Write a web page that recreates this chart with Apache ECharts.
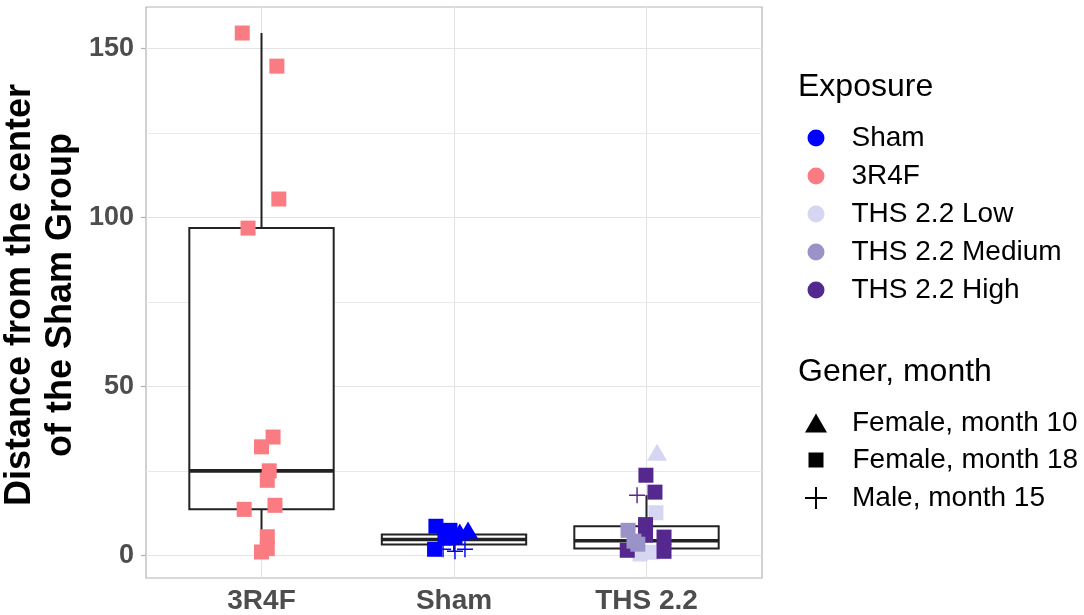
<!DOCTYPE html>
<html>
<head>
<meta charset="utf-8">
<script src="https://cdn.jsdelivr.net/npm/echarts@6/dist/echarts.min.js"></script>
<style>html,body{margin:0;padding:0;background:#fff}#c{width:1084px;height:615px}</style>
</head>
<body>
<div id="c"></div>
<script>
// ---- data ----
const categories = ['3R4F', 'Sham', 'THS 2.2'];
const categoryPos = [1, 2, 3];
const yTicks = [0, 50, 100, 150];
const yMinor = [25, 75, 125];

// box statistics per category (3R4F, Sham, THS 2.2)
const boxLow  = [1.1, 1.3, 0.5];
const boxQ1   = [13.7, 3.3, 2.1];
const boxMed  = [25.1, 4.8, 4.4];
const boxQ3   = [96.9, 6.3, 8.7];
const boxHigh = [154.6, 8.7, 17.9];

// jittered points [x, distance]
const r3f_sq = [[0.90,154.6],[1.08,144.8],[1.09,105.5],[0.93,96.9],[1.06,35.1],[1.00,32.2],
                [1.04,25.1],[1.03,22.3],[0.91,13.7],[1.07,14.9],[1.03,5.6],[1.03,2.1],[1.00,1.1]];
const sham_sq   = [[1.906,8.7],[1.979,7.5],[1.899,1.9],[1.953,5.2],[2.005,5.5]];
const sham_tri  = [[2.073,7.6],[2.030,7.0]];
const sham_plus = [[1.943,1.9],[2.005,1.3],[2.057,1.9]];
const low_tri   = [[3.055,30.6]];
const low_sq    = [[3.049,12.7],[3.029,1.0],[2.966,0.5]];
const med_sq    = [[2.904,7.5],[2.935,4.3],[2.955,3.4]];
const high_sq   = [[2.997,23.8],[3.044,18.8],[2.995,9.2],[2.995,6.1],[3.091,5.5],[3.091,1.3],[2.900,1.6]];
const high_plus = [[2.951,17.9]];

const exposureNames = ['Sham', '3R4F', 'THS 2.2 Low', 'THS 2.2 Medium', 'THS 2.2 High'];
const exposureColors = ['#0000ff', '#fa7b81', '#d6d6f3', '#9a93c8', '#55288f'];
const shapeNames = ['Female, month 10', 'Female, month 18', 'Male, month 15'];

// ---- styling ----
const FONT = 'Liberation Sans, Arial, Helvetica, sans-serif';
const TRI = 'path://M11,0L22,19H0Z';
const SQ = 'path://M0,0H10V10H0Z';
const PLUS = 'path://M45.5,0H54.5V45.5H100V54.5H54.5V100H45.5V54.5H0V45.5H45.5Z';
const shapeSym = {
  tri: {symbol: TRI, symbolSize: [20, 17]},
  sq: {symbol: 'rect', symbolSize: 15},
  plus: {symbol: PLUS, symbolSize: 16}
};
function pts(arr, shape) {
  return arr.map(p => Object.assign({value: p}, shapeSym[shape]));
}
const BOX_HALF = 0.375;
const boxData = categories.map((c, i) => [categoryPos[i], boxLow[i], boxQ1[i], boxMed[i], boxQ3[i], boxHigh[i]]);

const pointSeries = [
  {name: 'THS 2.2 Low', data: pts(low_tri, 'tri').concat(pts(low_sq, 'sq'))},
  {name: '3R4F', data: pts(r3f_sq, 'sq')},
  {name: 'Sham', data: pts(sham_sq, 'sq').concat(pts(sham_tri, 'tri'), pts(sham_plus, 'plus'))},
  {name: 'THS 2.2 High', data: pts(high_sq, 'sq').concat(pts(high_plus, 'plus'))},
  {name: 'THS 2.2 Medium', data: pts(med_sq, 'sq')}
].map(s => ({
  type: 'scatter', name: s.name, data: s.data, z: 4,
  itemStyle: {color: exposureColors[exposureNames.indexOf(s.name)], opacity: 1},
  emphasis: {disabled: true}, silent: true
}));

const gridLineSeries = {
  type: 'scatter', name: '_grid', data: [], silent: true,
  markLine: {
    z: 1, silent: true, symbol: ['none', 'none'], label: {show: false}, animation: false,
    lineStyle: {color: '#e4e4e4', width: 1.2, type: 'solid'},
    emphasis: {disabled: true},
    data: yTicks.map(v => ({yAxis: v}))
      .concat(yMinor.map(v => ({yAxis: v, lineStyle: {width: 0.9, color: '#e8e8e8', type: 'solid'}})))
      .concat(categoryPos.map(v => ({xAxis: v})))
  }
};

const boxSeries = {
  type: 'custom', name: '_box', z: 3, silent: true,
  data: boxData,
  encode: {x: 0, y: [1, 2, 3, 4, 5]},
  renderItem: function (params, api) {
    const x = api.value(0);
    const lo = api.coord([x, api.value(1)]);
    const q1 = api.coord([x - BOX_HALF, api.value(2)]);
    const med = api.coord([x - BOX_HALF, api.value(3)]);
    const q3 = api.coord([x - BOX_HALF, api.value(4)]);
    const hi = api.coord([x, api.value(5)]);
    const rt = api.coord([x + BOX_HALF, api.value(4)]);
    const w = rt[0] - q3[0];
    const line = {stroke: '#222', lineWidth: 2};
    return {type: 'group', children: [
      {type: 'line', shape: {x1: lo[0], y1: lo[1], x2: lo[0], y2: q1[1]}, style: line},
      {type: 'line', shape: {x1: hi[0], y1: hi[1], x2: hi[0], y2: q3[1]}, style: line},
      {type: 'rect', shape: {x: q3[0], y: q3[1], width: w, height: q1[1] - q3[1]},
       style: {fill: '#fff', stroke: '#222', lineWidth: 2}},
      {type: 'line', shape: {x1: med[0], y1: med[1], x2: med[0] + w, y2: med[1]},
       style: {stroke: '#222', lineWidth: 3.6}}
    ]};
  }
};

const shapeLegendSeries = shapeNames.map(n => ({type: 'scatter', name: n, data: [], itemStyle: {color: '#000'}}));

function legendText(padLeft) {
  return {fontSize: 28, fontFamily: FONT, color: '#000', lineHeight: 30, padding: [0, 0, 0, padLeft]};
}
const blackIcon = {color: '#000', opacity: 1, borderWidth: 0};

const option = {
  animation: false,
  backgroundColor: '#fff',
  textStyle: {fontFamily: FONT},
  grid: {left: 146, right: 322, top: 7, bottom: 37, show: true, borderColor: '#b3b3b3', borderWidth: 1.2, backgroundColor: '#fff'},
  xAxis: {
    type: 'value', min: 0.4, max: 3.6,
    axisLine: {show: false},
    splitLine: {show: false},
    axisTick: {show: true, customValues: categoryPos, length: 5, lineStyle: {color: '#b3b3b3', width: 1.2}},
    axisLabel: {customValues: categoryPos, formatter: v => categories[Math.round(v) - 1],
      fontSize: 28, fontWeight: 'bold', color: '#4d4d4d', fontFamily: FONT, margin: 9}
  },
  yAxis: {
    type: 'value', min: -6.6, max: 162.3,
    axisLine: {show: false},
    splitLine: {show: false},
    axisTick: {show: true, customValues: yTicks, length: 5, lineStyle: {color: '#b3b3b3', width: 1.2}},
    axisLabel: {customValues: yTicks, fontSize: 27, fontWeight: 'bold', color: '#4d4d4d', fontFamily: FONT, margin: 12}
  },
  legend: [
    {orient: 'vertical', left: 807.5, top: 123, padding: 0, itemGap: 8, itemWidth: 17, itemHeight: 17,
     selectedMode: false, textStyle: legendText(22),
     data: exposureNames.map(n => ({name: n, icon: 'circle'}))},
    {orient: 'vertical', left: 805, top: 408, padding: 0, itemWidth: 22, itemHeight: 19,
     selectedMode: false, textStyle: legendText(20), itemStyle: blackIcon,
     data: [{name: shapeNames[0], icon: TRI, itemStyle: blackIcon}]},
    {orient: 'vertical', left: 808.5, top: 445, padding: 0, itemWidth: 15, itemHeight: 15,
     selectedMode: false, textStyle: legendText(24), itemStyle: blackIcon,
     data: [{name: shapeNames[1], icon: SQ, itemStyle: blackIcon}]},
    {orient: 'vertical', left: 805, top: 483, padding: 0, itemWidth: 22, itemHeight: 22,
     selectedMode: false, textStyle: legendText(20), itemStyle: blackIcon,
     data: [{name: shapeNames[2], icon: PLUS, itemStyle: blackIcon}]}
  ],
  graphic: [
    {type: 'text', x: 798, y: 87, silent: true,
     style: {text: 'Exposure', fontSize: 32, fontFamily: FONT, fill: '#000', verticalAlign: 'middle'}},
    {type: 'text', x: 798, y: 372, silent: true,
     style: {text: 'Gener, month', fontSize: 32, fontFamily: FONT, fill: '#000', verticalAlign: 'middle'}},
    {type: 'text', x: 41, y: 295, rotation: Math.PI / 2, silent: true,
     style: {text: 'Distance from the center\nof the Sham Group', fontSize: 36, fontWeight: 'bold',
       fontFamily: FONT, fill: '#000', align: 'center', verticalAlign: 'middle', lineHeight: 41}}
  ],
  series: [gridLineSeries, boxSeries].concat(pointSeries, shapeLegendSeries)
};

const chart = echarts.init(document.getElementById('c'), null, {renderer: 'canvas'});
chart.setOption(option);
</script>
</body>
</html>
